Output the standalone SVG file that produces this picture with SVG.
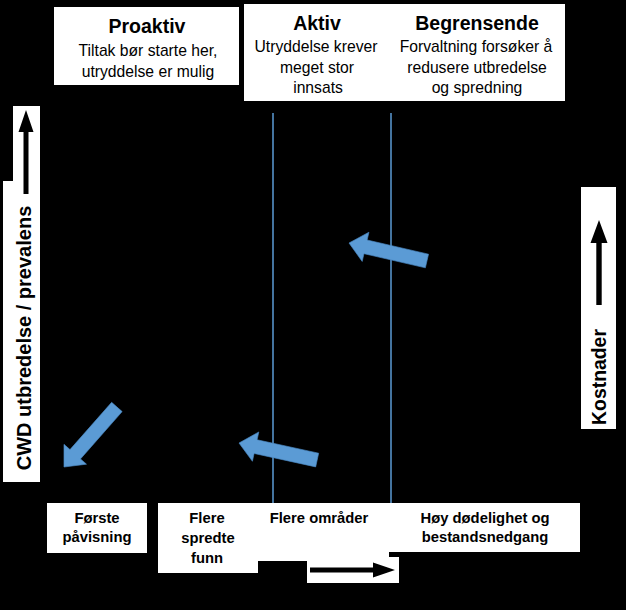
<svg xmlns="http://www.w3.org/2000/svg" width="626" height="610" viewBox="0 0 626 610">
<defs>
<style>
.box{fill:#ffffff;}
.t{font-family:"Liberation Sans",Arial,sans-serif;fill:#000;text-anchor:middle;}
.h{font-size:19.5px;font-weight:bold;}
.b{font-size:15.7px;}
.s{font-size:14.8px;font-weight:bold;}
.ax{font-size:20px;font-weight:bold;}
.vl{stroke:#5B9BD5;stroke-width:1.5;fill:none;}
.ba{fill:#5B9BD5;stroke:#4A88C2;stroke-width:0.6;}
.blk{fill:#000;}
</style>
<path id="blockArrow" d="M0,0 L-17,-15 L-17,-7 L-80,-7 L-80,7 L-17,7 L-17,15 Z"/>
</defs>
<rect x="0" y="0" width="626" height="610" fill="#000"/>

<g id="proaktiv">
<rect class="box" x="54" y="7" width="185" height="78"/>
<text class="t h" x="147" y="33">Proaktiv</text>
<text class="t b" x="148" y="56">Tiltak bør starte her,</text>
<text class="t b" x="148" y="77">utryddelse er mulig</text>
</g>

<g id="aktiv-begrensende">
<rect class="box" x="244" y="4" width="321" height="97"/>
<text class="t h" x="317" y="30">Aktiv</text>
<text class="t b" x="316" y="52">Utryddelse krever</text>
<text class="t b" x="317" y="73">meget stor</text>
<text class="t b" x="318" y="93">innsats</text>
<text class="t h" x="477" y="30">Begrensende</text>
<text class="t b" x="476" y="52">Forvaltning forsøker å</text>
<text class="t b" x="477" y="73">redusere utbredelse</text>
<text class="t b" x="477" y="93">og spredning</text>
</g>

<g id="y-axis">
<path class="box" d="M13,106 H40 V482 H3 V181 H13 Z"/>
<path class="blk" d="M26,110 L33.5,132 L28.5,132 L28.5,194 L23.5,194 L23.5,132 L18.5,132 Z"/>
<text class="t ax" transform="translate(31,338) rotate(-90)">CWD utbredelse / prevalens</text>
</g>

<g id="kostnader">
<rect class="box" x="581" y="187" width="35" height="242"/>
<path class="blk" d="M599,220 L607.5,243 L601.7,243 L601.7,305 L596.3,305 L596.3,243 L590.5,243 Z"/>
<text class="t" style="font-size:19.4px;font-weight:bold" transform="translate(606,377) rotate(-90)">Kostnader</text>
</g>

<g id="forste-pavisning">
<rect class="box" x="47" y="503" width="100" height="50"/>
<text class="t s" x="97" y="523">Første</text>
<text class="t s" x="97" y="542">påvisning</text>
</g>

<g id="tidslinje">
<path class="box" d="M158,503 H580 V552 H389 V557 H399 V583 H307 V561 H258 V573 H158 Z"/>
<path class="blk" d="M395,570 L373,562.5 L373,567.5 L310,567.5 L310,572.5 L373,572.5 L373,577.5 Z"/>
</g>

<g id="flere-spredte-funn">
<text class="t s" x="207" y="523">Flere</text>
<text class="t s" x="208" y="543">spredte</text>
<text class="t s" x="207" y="563">funn</text>
</g>

<g id="flere-omrader">
<text class="t s" x="319" y="523">Flere områder</text>
</g>

<g id="hoy-dodelighet">
<text class="t s" x="485" y="523">Høy dødelighet og</text>
<text class="t s" x="485" y="542">bestandsnedgang</text>
</g>

<g id="connectors">
<line class="vl" x1="273" y1="113" x2="273" y2="503"/>
<line class="vl" x1="391" y1="113" x2="391" y2="503"/>
<use href="#blockArrow" class="ba" transform="translate(349,243) rotate(193)"/>
<use href="#blockArrow" class="ba" transform="translate(239,443) rotate(192.3)"/>
<use href="#blockArrow" class="ba" transform="translate(64,467) rotate(131.4)"/>
</g>
</svg>
